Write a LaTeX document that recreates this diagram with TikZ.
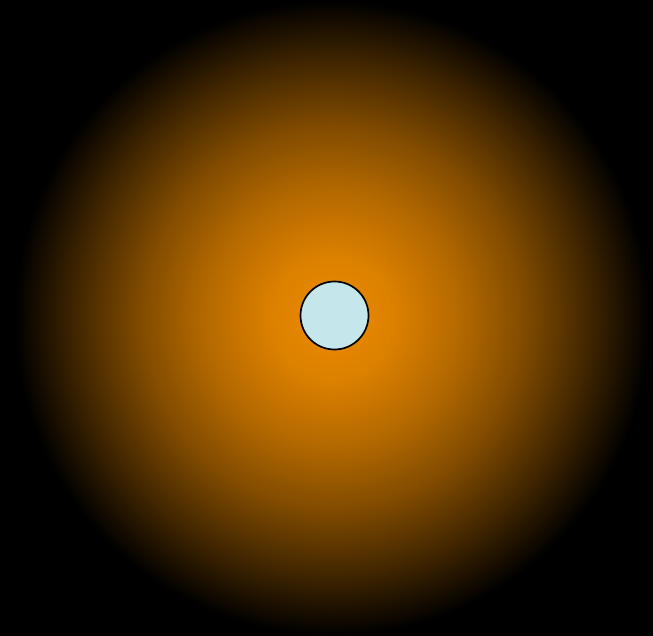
\documentclass[tikz,border=0pt]{standalone}
\definecolor{orng}{RGB}{240,140,0}
\definecolor{innerblue}{RGB}{197,230,234}
\pgfdeclareradialshading{glow}{\pgfpoint{0bp}{0bp}}{%
  color(0bp)=(orng);
  color(5bp)=(orng!91!black);
  color(10bp)=(orng!75!black);
  color(15bp)=(orng!54!black);
  color(20bp)=(orng!28!black);
  color(22.5bp)=(orng!14!black);
  color(25bp)=(black);
  color(50bp)=(black)}
\tikzset{core/.style={circle,draw=black,line width=1.7pt,fill=innerblue,minimum size=68pt,inner sep=0pt}}
\begin{document}
\begin{tikzpicture}[x=1pt,y=-1pt]
\useasboundingbox (0,0) rectangle (653,636);
\fill[black] (0,0) rectangle (653,636);
\shade[shading=glow] (332,318) circle (318);
\node[core] (c) at (334.5,315.5) {};
\end{tikzpicture}
\end{document}
